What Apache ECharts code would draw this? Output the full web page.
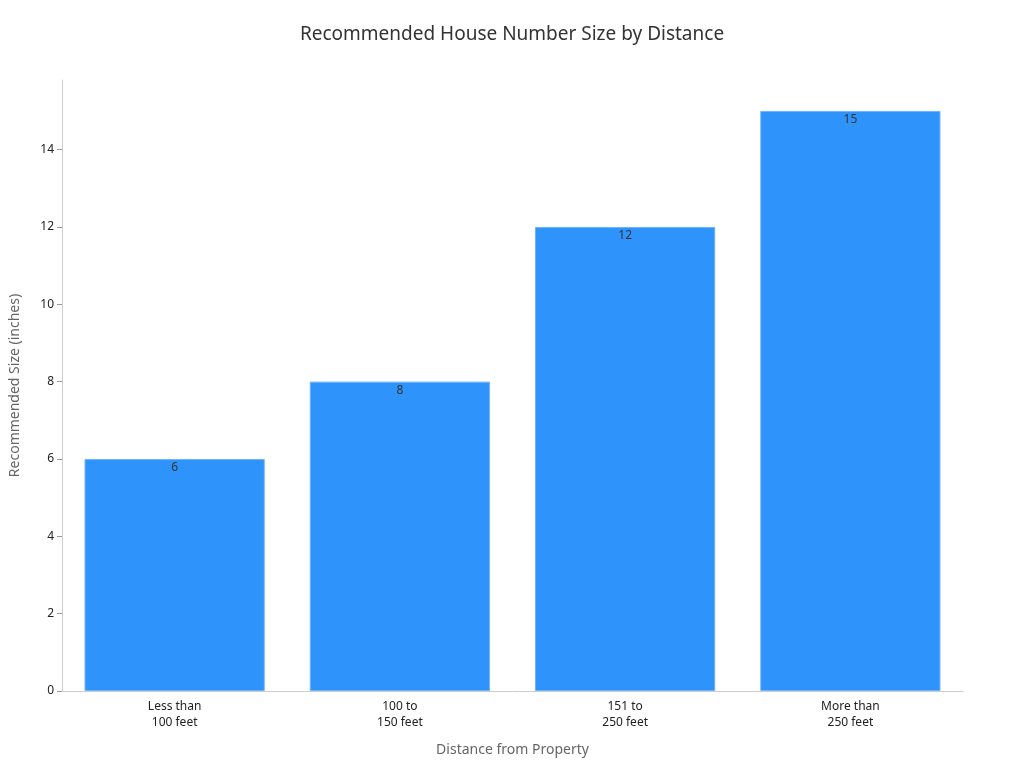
<!DOCTYPE html>
<html><head><meta charset="utf-8">
<script src="https://cdn.jsdelivr.net/npm/echarts@6/dist/echarts.min.js"></script>
<style>html,body{margin:0;padding:0}#c{width:1024px;height:768px}</style>
</head><body><div id="c"></div>
<script>
const categories = ["Less than\n100 feet", "100 to\n150 feet", "151 to\n250 feet", "More than\n250 feet"];
const values = [6, 8, 12, 15];
const chart = echarts.init(document.getElementById('c'));
chart.setOption({
  title: {text: 'Recommended House Number Size by Distance', left: 'center', top: 20,
    textStyle: {fontFamily: 'Noto Sans', fontSize: 19, fontWeight: 'normal', color: '#333'}},
  grid: {left: 60, right: 61, top: 80, bottom: 77},
  xAxis: {type: 'category', data: categories, name: 'Distance from Property', nameLocation: 'middle', nameGap: 52,
    nameTextStyle: {fontFamily: 'Noto Sans', fontSize: 14, color: '#666'},
    axisLine: {lineStyle: {color: '#ccc'}}, axisTick: {show: false},
    axisLabel: {fontFamily: 'Noto Sans', fontSize: 12, color: '#222', lineHeight: 16}},
  yAxis: {type: 'value', min: 0, max: 15.8, interval: 2, name: 'Recommended Size (inches)', nameLocation: 'middle', nameGap: 40,
    nameTextStyle: {fontFamily: 'Noto Sans', fontSize: 14, color: '#666'},
    axisLine: {show: true, lineStyle: {color: '#ccc'}}, axisTick: {show: true, lineStyle: {color: '#999'}},
    splitLine: {show: false},
    axisLabel: {fontFamily: 'Noto Sans', fontSize: 12, color: '#222', showMaxLabel: false}},
  series: [{type: 'bar', data: values, barWidth: '80%',
    itemStyle: {color: '#2E93FA', borderColor: '#6FB4FB', borderWidth: 1},
    label: {show: true, position: 'insideTop', offset: [0, -2], color: '#333', fontFamily: 'Noto Sans', fontSize: 12}}]
});
</script></body></html>
